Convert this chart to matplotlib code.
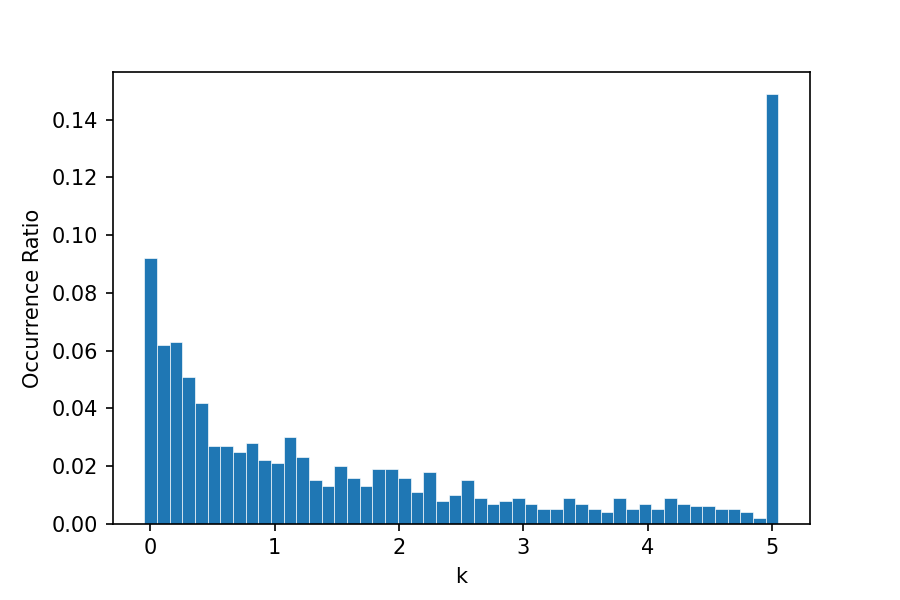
import numpy as np
import matplotlib
matplotlib.use("Agg")
import matplotlib.pyplot as plt

# Occurrence ratio per bin (50 bins spanning -0.05 .. 5.05)
bin_low = -0.05
bin_high = 5.05
n_bins = 50
ratios = [
    0.092, 0.062, 0.063, 0.051, 0.042, 0.027, 0.027, 0.025, 0.028, 0.022,
    0.021, 0.030, 0.023, 0.015, 0.013, 0.020, 0.016, 0.013, 0.019, 0.019,
    0.016, 0.011, 0.018, 0.008, 0.010, 0.015, 0.009, 0.007, 0.008, 0.009,
    0.007, 0.005, 0.005, 0.009, 0.007, 0.005, 0.004, 0.009, 0.005, 0.007,
    0.005, 0.009, 0.007, 0.006, 0.006, 0.005, 0.005, 0.004, 0.002, 0.149,
]
x_label = "k"
y_label = "Occurrence Ratio"

edges = np.linspace(bin_low, bin_high, n_bins + 1)
centers = (edges[:-1] + edges[1:]) / 2

plt.rcParams['font.family'] = ['DejaVu Sans']
fig = plt.figure(figsize=(6, 4), dpi=150)
ax = fig.add_axes([0.125, 0.127, 0.775, 0.753])
ax.hist(centers, bins=edges, weights=ratios, color='#1f77b4',
        edgecolor='white', linewidth=0.3)
ax.set_xlabel(x_label)
ax.set_ylabel(y_label)
fig.savefig("out.png", dpi=150)
